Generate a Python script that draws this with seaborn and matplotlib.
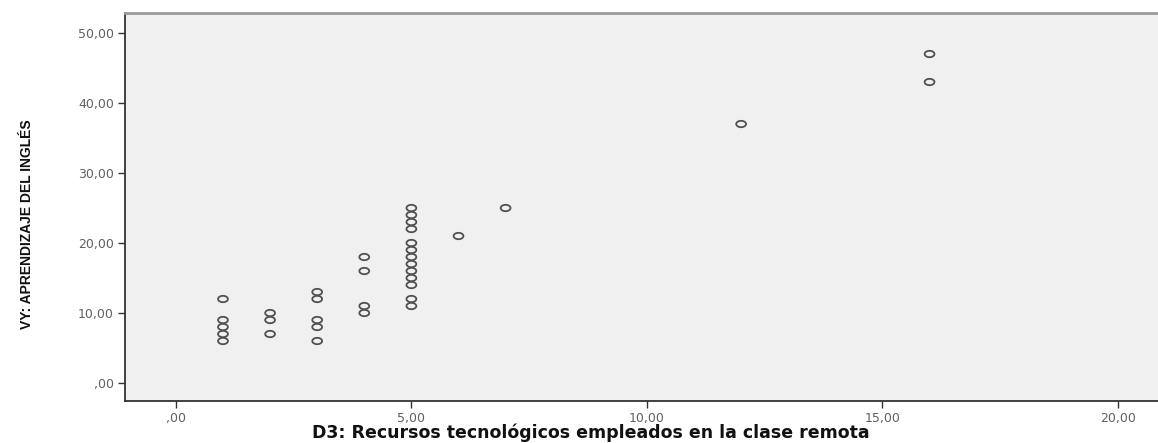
import numpy as np
import pandas as pd
import matplotlib
matplotlib.use('Agg')
import matplotlib.pyplot as plt
import seaborn as sns
from matplotlib.path import Path

# datos (D3 vs VY)
recursos = [1, 1, 1, 1, 1,
            2, 2, 2,
            3, 3, 3, 3, 3,
            4, 4, 4, 4,
            5, 5, 5, 5, 5, 5, 5, 5, 5, 5, 5, 5, 5,
            6, 7, 12, 16, 16]
aprendizaje = [12, 9, 8, 7, 6,
               10, 9, 7,
               13, 12, 9, 8, 6,
               18, 16, 11, 10,
               25, 24, 23, 22, 20, 19, 18, 17, 16, 15, 14, 12, 11,
               21, 25, 37, 47, 43]

x_ticks = [0, 5, 10, 15, 20]
x_labels = [',00', '5,00', '10,00', '15,00', '20,00']
y_ticks = [0, 10, 20, 30, 40, 50]
y_labels = [',00', '10,00', '20,00', '30,00', '40,00', '50,00']

df = pd.DataFrame({'D3': recursos, 'VY': aprendizaje})

# marcador eliptico hueco, como SPSS
t = np.linspace(0, 2 * np.pi, 40)
elipse = Path(np.column_stack([np.cos(t), 0.65 * np.sin(t)]), closed=True)

fig = plt.figure(figsize=(11.58, 4.43), dpi=100)
ax = fig.add_axes([125 / 1158, 42 / 443, 1033 / 1158, 388 / 443])
ax.set_facecolor('#f0f0f0')

sns.scatterplot(data=df, x='D3', y='VY', ax=ax, marker=elipse, s=50,
                facecolor='none', edgecolor='#505050', linewidth=1.3, legend=False)

ax.set_xlim(-1.08, 20.85)
ax.set_ylim(-2.57, 52.86)
ax.set_xticks(x_ticks)
ax.set_xticklabels(x_labels)
ax.set_yticks(y_ticks)
ax.set_yticklabels(y_labels)
ax.tick_params(axis='both', direction='out', length=5, width=1, color='#333333',
               labelsize=9, labelcolor='#606060', pad=3)

for s in ['left', 'bottom']:
    ax.spines[s].set_color('#333333')
    ax.spines[s].set_linewidth(1.3)
ax.spines['top'].set_color('#9a9a9a')
ax.spines['top'].set_linewidth(2)
ax.spines['right'].set_visible(False)

ax.set_xlabel('D3: Recursos tecnológicos empleados en la clase remota',
              fontsize=12.5, fontweight='bold', color='#111111',
              family=['DejaVu Sans'])
ax.xaxis.set_label_coords(0.451, -0.058)
ax.set_ylabel('VY: APRENDIZAJE DEL INGLÉS', fontsize=10, fontweight='bold',
              color='#111111', family=['Liberation Sans', 'DejaVu Sans'])
ax.yaxis.set_label_coords(-0.088, 0.455)

fig.savefig('out.png', dpi=100)
